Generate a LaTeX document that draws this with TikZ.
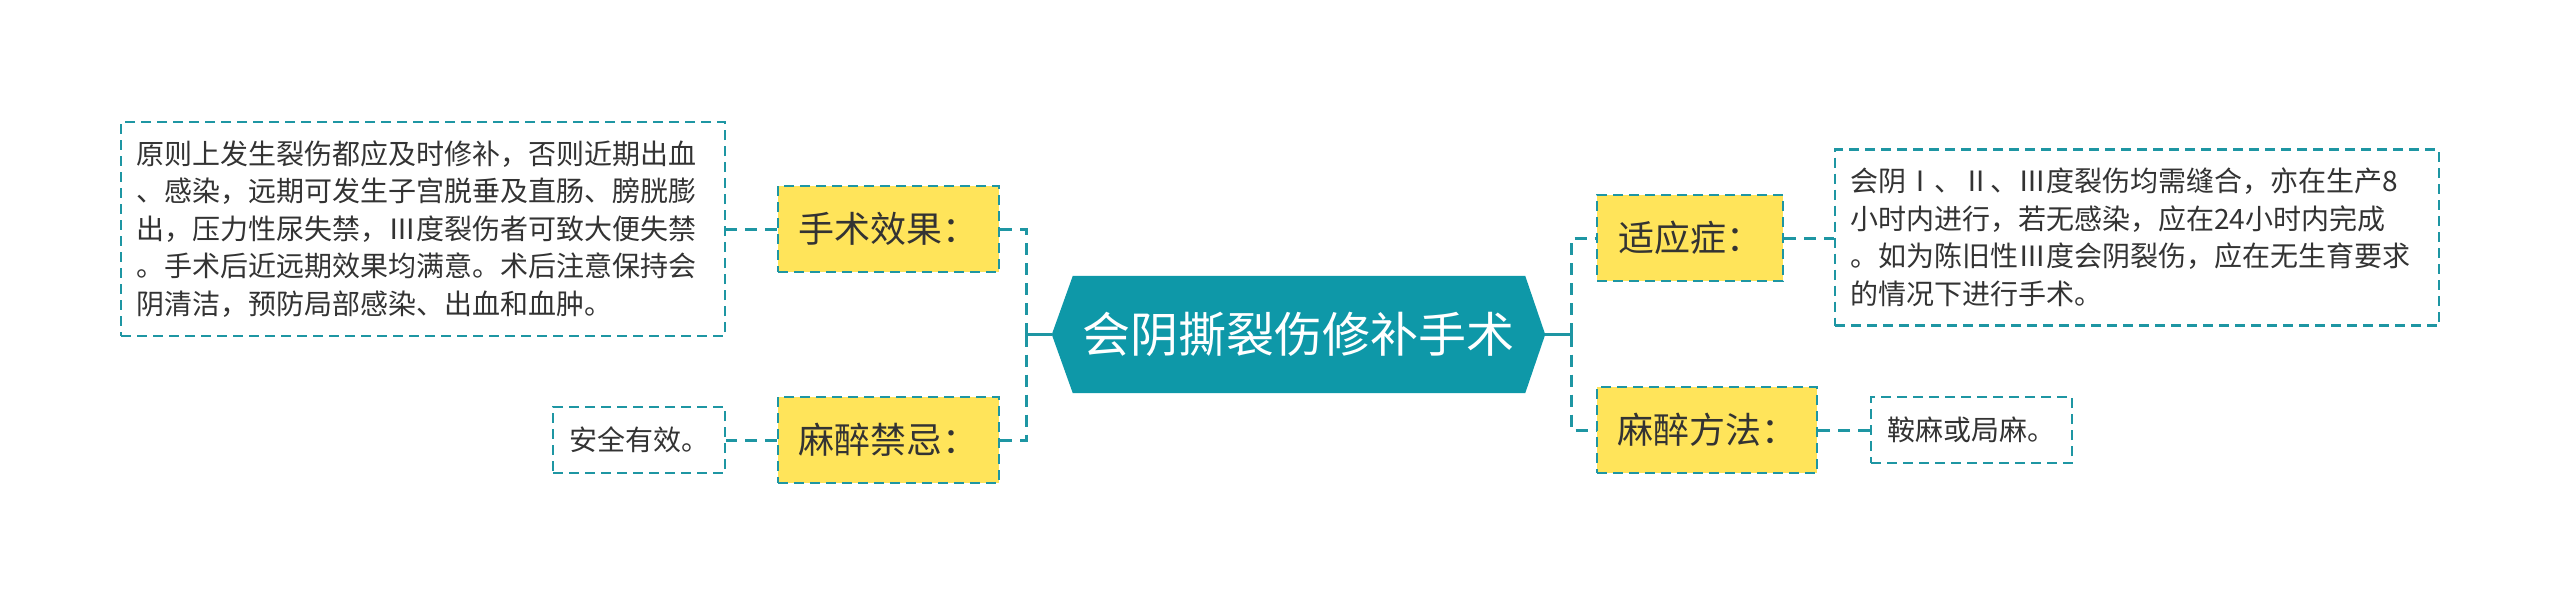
\documentclass[tikz,border=0pt]{standalone}
\usepackage{fontspec}
\newfontfamily\cjkfont{Noto Sans CJK SC}
\usetikzlibrary{backgrounds}
\definecolor{hexteal}{HTML}{0E98A8}
\definecolor{lineteal}{HTML}{1E96A3}
\definecolor{labelyellow}{HTML}{FFE45A}
\definecolor{txt}{HTML}{333333}
\tikzset{
  textbox/.style={draw=lineteal, line width=2.5pt, dash pattern=on 10pt off 6pt,
    inner ysep=0pt, inner xsep=15pt, align=left, text=txt,
    font=\cjkfont\fontsize{28}{37.5}\selectfont},
  smallbox/.style={draw=lineteal, line width=2.5pt, dash pattern=on 10pt off 6pt,
    inner sep=0pt, text=txt, font=\cjkfont\fontsize{28}{34}\selectfont},
  labelbox/.style={draw=lineteal, fill=labelyellow, line width=2.5pt,
    dash pattern=on 10pt off 6pt, inner sep=0pt, minimum height=86pt, text=txt,
    font=\cjkfont\fontsize{36}{40}\selectfont},
  centerbox/.style={inner sep=0pt, minimum width=493pt, minimum height=117pt,
    text=white, font=\cjkfont\fontsize{48}{52}\selectfont},
  conn/.style={draw=lineteal, line width=3pt, dash pattern=on 12pt off 8pt},
  stem/.style={draw=lineteal, line width=3pt},
}
\begin{document}
\begin{tikzpicture}[x=1pt, y=-1pt]
\useasboundingbox (0,0) rectangle (2560,606);
% nodes
\node[centerbox] (c) at (1298.5,334.5) {会阴撕裂伤修补手术};
\node[labelbox, minimum width=221pt] (h1) at (888.5,229) {手术效果：};
\node[labelbox, minimum width=221pt] (h2) at (888.5,440) {麻醉禁忌：};
\node[labelbox, minimum width=186pt] (h3) at (1690,238) {适应症：};
\node[labelbox, minimum width=220pt] (h4) at (1707,430) {麻醉方法：};
\node[textbox, text width=574pt, minimum height=214pt] (l1) at (423,229) {原则上发生裂伤都应及时修补，否则近期出血\\、感染，远期可发生子宫脱垂及直肠、膀胱膨\\出，压力性尿失禁，Ⅲ度裂伤者可致大便失禁\\。手术后近远期效果均满意。术后注意保持会\\阴清洁，预防局部感染、出血和血肿。};
\node[smallbox, minimum width=172pt, minimum height=66pt] (l2) at (639,440) {安全有效。};
\node[textbox, text width=574pt, minimum height=176pt] (r1) at (2137,237.5) {会阴Ⅰ、Ⅱ、Ⅲ度裂伤均需缝合，亦在生产8\\小时内进行，若无感染，应在24小时内完成\\。如为陈旧性Ⅲ度会阴裂伤，应在无生育要求\\的情况下进行手术。};
\node[smallbox, minimum width=201pt, minimum height=66pt] (r2) at (1971.5,430) {鞍麻或局麻。};
% junctions
\coordinate (lj) at (1026,334.5);
\coordinate (rj) at (1571,334.5);
% connectors
\draw[stem] (c.west) -- (lj);
\draw[conn] (lj) |- (h1.east);
\draw[conn] (lj) |- (h2.east);
\draw[stem] (c.east) -- (rj);
\draw[conn] (rj) |- (h3.west);
\draw[conn] (rj) |- (h4.west);
\draw[conn] (h1.west) -- (l1.east);
\draw[conn] (h2.west) -- (l2.east);
\draw[conn] (h3.east) -- (r1.west |- h3.east);
\draw[conn] (h4.east) -- (r2.west);
% background
\begin{scope}[on background layer]
\fill[white] (0,0) rectangle (2560,606);
\fill[hexteal] (c.west) -- ([xshift=21pt]c.north west) -- ([xshift=-20pt]c.north east)
  -- (c.east) -- ([xshift=-20pt]c.south east) -- ([xshift=21pt]c.south west) -- cycle;
\end{scope}
\end{tikzpicture}
\end{document}
